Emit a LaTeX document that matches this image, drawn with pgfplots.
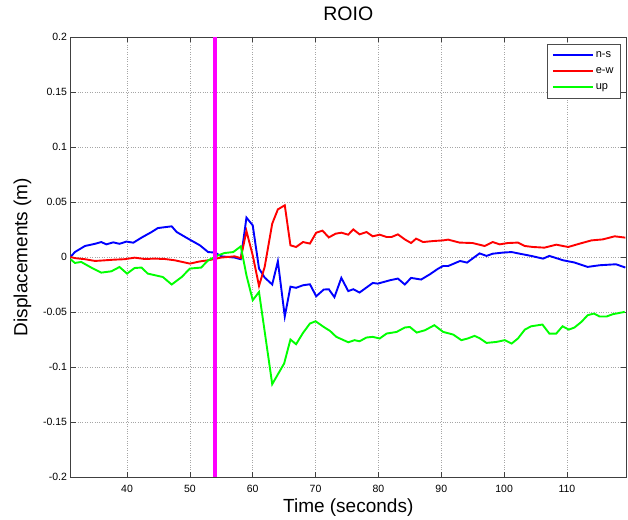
\documentclass[border=0pt]{standalone}
\usepackage{fontspec}
\setmainfont{Liberation Sans}
\usepackage{pgfplots}
\pgfplotsset{compat=1.18}
\begin{document}
\begin{tikzpicture}
\useasboundingbox (-70.5pt,-42pt) rectangle (557.5pt,477pt);
\begin{axis}[
  at={(0pt,0pt)}, anchor=south west,
  scale only axis, width=555.5pt, height=440pt,
  xmin=31, xmax=119.4, ymin=-0.2, ymax=0.2,
  xtick={40,50,...,110},
  ytick={-0.2,-0.15,-0.1,-0.05,0,0.05,0.1,0.15,0.2},
  yticklabels={-0.2,-0.15,-0.1,-0.05,0,0.05,0.1,0.15,0.2},
  xticklabels={40,50,60,70,80,90,100,110},
  tick align=inside, xtick pos=both, ytick pos=both,
  major tick length=5pt,
  tick style={black!75, line width=0.5pt},
  axis line style={black!75, line width=0.6pt},
  grid=major,
  major grid style={dotted, gray!70, line width=0.6pt},
  tick label style={font=\fontsize{10.5}{12}\selectfont},
  xticklabel style={yshift=-4.5pt},
  /pgf/number format/assume math mode=true,
  title={ROIO},
  title style={font=\fontsize{19.5}{22}\selectfont, at={(axis description cs:0.5,1.0398)}, anchor=center},
  xlabel={Time (seconds)},
  xlabel style={font=\fontsize{19}{22}\selectfont, at={(axis description cs:0.5,-0.0705)}, anchor=center},
  ylabel={Displacements (m)},
  ylabel style={font=\fontsize{19}{22}\selectfont, at={(axis description cs:-0.0866,0.5)}, anchor=center},
  legend style={at={(1,1)}, anchor=north east, xshift=-5.3pt, yshift=-7pt,
    draw=black!70, font=\fontsize{11}{13}\selectfont, row sep=4.5pt,
    inner xsep=5pt, inner ysep=5.5pt},
  legend cell align=left,
  legend image code/.code={\draw[#1] (0pt,0pt) -- (40pt,0pt);},
]
\addplot[color={rgb,255:red,0;green,0;blue,255}, line width=1.9pt] coordinates {
(31,0.000)(31.7,0.0045)(33.3,0.010)(34.9,0.012)(35.9,0.0136)(36.7,0.0115)(37.8,0.0133)(38.8,0.012)(39.9,0.014)(41.0,0.013)(42.3,0.0176)(43.9,0.0227)(44.9,0.0263)(47.1,0.0279)(47.9,0.0227)(49.7,0.0167)(51.6,0.0106)(52.9,0.0045)(54.0,0.004)(55.0,0.0006)(57.1,-0.0005)(58.1,-0.002)(59.0,0.0358)(60.0,0.0288)(61.0,-0.0105)(61.9,-0.0187)(63.1,-0.025)(64.0,-0.0039)(65.1,-0.054)(66.0,-0.027)(66.9,-0.028)(68.0,-0.0257)(69.1,-0.0248)(70.1,-0.0357)(71.3,-0.0296)(72.1,-0.0293)(73.0,-0.0365)(74.1,-0.019)(75.2,-0.031)(76.0,-0.0293)(77.0,-0.0323)(79.1,-0.0236)(79.9,-0.0242)(81.8,-0.0212)(83.1,-0.0196)(84.2,-0.025)(85.2,-0.019)(86.8,-0.0205)(88.2,-0.0157)(89.5,-0.0106)(90.3,-0.0082)(91.1,-0.0082)(93.0,-0.0036)(94.1,-0.0051)(96.1,0.0033)(97.2,0.001)(98.2,0.003)(99.8,0.004)(101.2,0.0045)(102.5,0.003)(104.3,0.001)(106.2,-0.0015)(107.2,0.001)(109.4,-0.003)(111.2,-0.005)(113.3,-0.009)(115.2,-0.0075)(117.8,-0.0066)(119.3,-0.0096)
};
\addlegendentry{n-s}
\addplot[color={rgb,255:red,255;green,0;blue,0}, line width=1.9pt] coordinates {
(31,0.000)(31.7,-0.001)(33.3,-0.002)(34.9,-0.0036)(36.5,-0.003)(38.0,-0.0024)(39.6,-0.002)(41.2,-0.0006)(42.8,-0.0018)(44.4,-0.0015)(46.0,-0.0018)(47.6,-0.003)(50.0,-0.006)(51.6,-0.004)(52.9,-0.003)(55.0,-0.0005)(57.1,0.0006)(58.1,-0.001)(59.0,0.0236)(60.0,0.0015)(61.0,-0.0263)(61.9,-0.009)(63.1,0.0303)(64.0,0.0433)(65.1,0.047)(66.0,0.0106)(66.9,0.0091)(68.0,0.0136)(69.1,0.0122)(70.1,0.0221)(71.1,0.0240)(72.1,0.0178)(73.2,0.0212)(74.1,0.0221)(75.2,0.0203)(76.0,0.0251)(77.0,0.0206)(78.1,0.0227)(79.1,0.0188)(80.2,0.0203)(81.3,0.0182)(82.1,0.0182)(83.1,0.0206)(84.2,0.016)(85.2,0.0127)(86.0,0.0167)(87.1,0.0136)(88.7,0.0145)(90.3,0.0151)(91.1,0.0158)(92.9,0.0131)(95.0,0.0127)(96.9,0.010)(98.2,0.0136)(99.3,0.0115)(100.6,0.0127)(102.2,0.0131)(103.3,0.010)(104.6,0.0091)(106.4,0.0085)(108.3,0.0112)(110.2,0.0091)(112.0,0.0121)(113.9,0.0151)(115.7,0.016)(117.6,0.0188)(119.3,0.0176)
};
\addlegendentry{e-w}
\addplot[color={rgb,255:red,0;green,255;blue,0}, line width=1.9pt] coordinates {
(31,-0.002)(31.7,-0.0054)(32.7,-0.0045)(34.3,-0.0096)(35.9,-0.0142)(37.5,-0.013)(38.8,-0.0091)(40.0,-0.0151)(41.2,-0.010)(42.3,-0.0096)(43.3,-0.0151)(45.7,-0.0182)(47.1,-0.025)(48.7,-0.0182)(50.0,-0.0105)(51.8,-0.0096)(52.9,-0.003)(54.5,0.0015)(55.5,0.0036)(56.9,0.0045)(58.1,0.0097)(59.0,-0.0166)(60.0,-0.0393)(61.0,-0.0318)(63.1,-0.1156)(65.0,-0.0968)(66.0,-0.075)(66.9,-0.0793)(68.0,-0.069)(69.1,-0.0605)(70.0,-0.0584)(71.3,-0.0636)(72.3,-0.0672)(73.3,-0.0726)(75.2,-0.0775)(76.2,-0.0756)(77.0,-0.0766)(78.1,-0.0732)(79.1,-0.0726)(80.2,-0.0741)(81.3,-0.0696)(82.9,-0.0681)(84.2,-0.0641)(85.0,-0.0636)(86.1,-0.0687)(87.4,-0.0666)(88.9,-0.062)(90.3,-0.0681)(91.9,-0.0705)(93.2,-0.0756)(94.2,-0.0741)(95.3,-0.0717)(96.1,-0.0738)(97.2,-0.0781)(98.8,-0.0772)(100.1,-0.0756)(101.2,-0.0787)(102.2,-0.0741)(103.3,-0.066)(104.3,-0.063)(106.1,-0.0614)(107.2,-0.0696)(108.3,-0.0696)(109.3,-0.063)(110.3,-0.066)(111.2,-0.0641)(112.3,-0.059)(113.3,-0.0529)(114.3,-0.0514)(115.2,-0.0541)(116.3,-0.0541)(117.3,-0.052)(119.2,-0.0499)
};
\addlegendentry{up}
\addplot[color={rgb,255:red,255;green,0;blue,255}, line width=4pt, forget plot] coordinates {(54,-0.2)(54,0.2)};
\end{axis}
\end{tikzpicture}
\end{document}
